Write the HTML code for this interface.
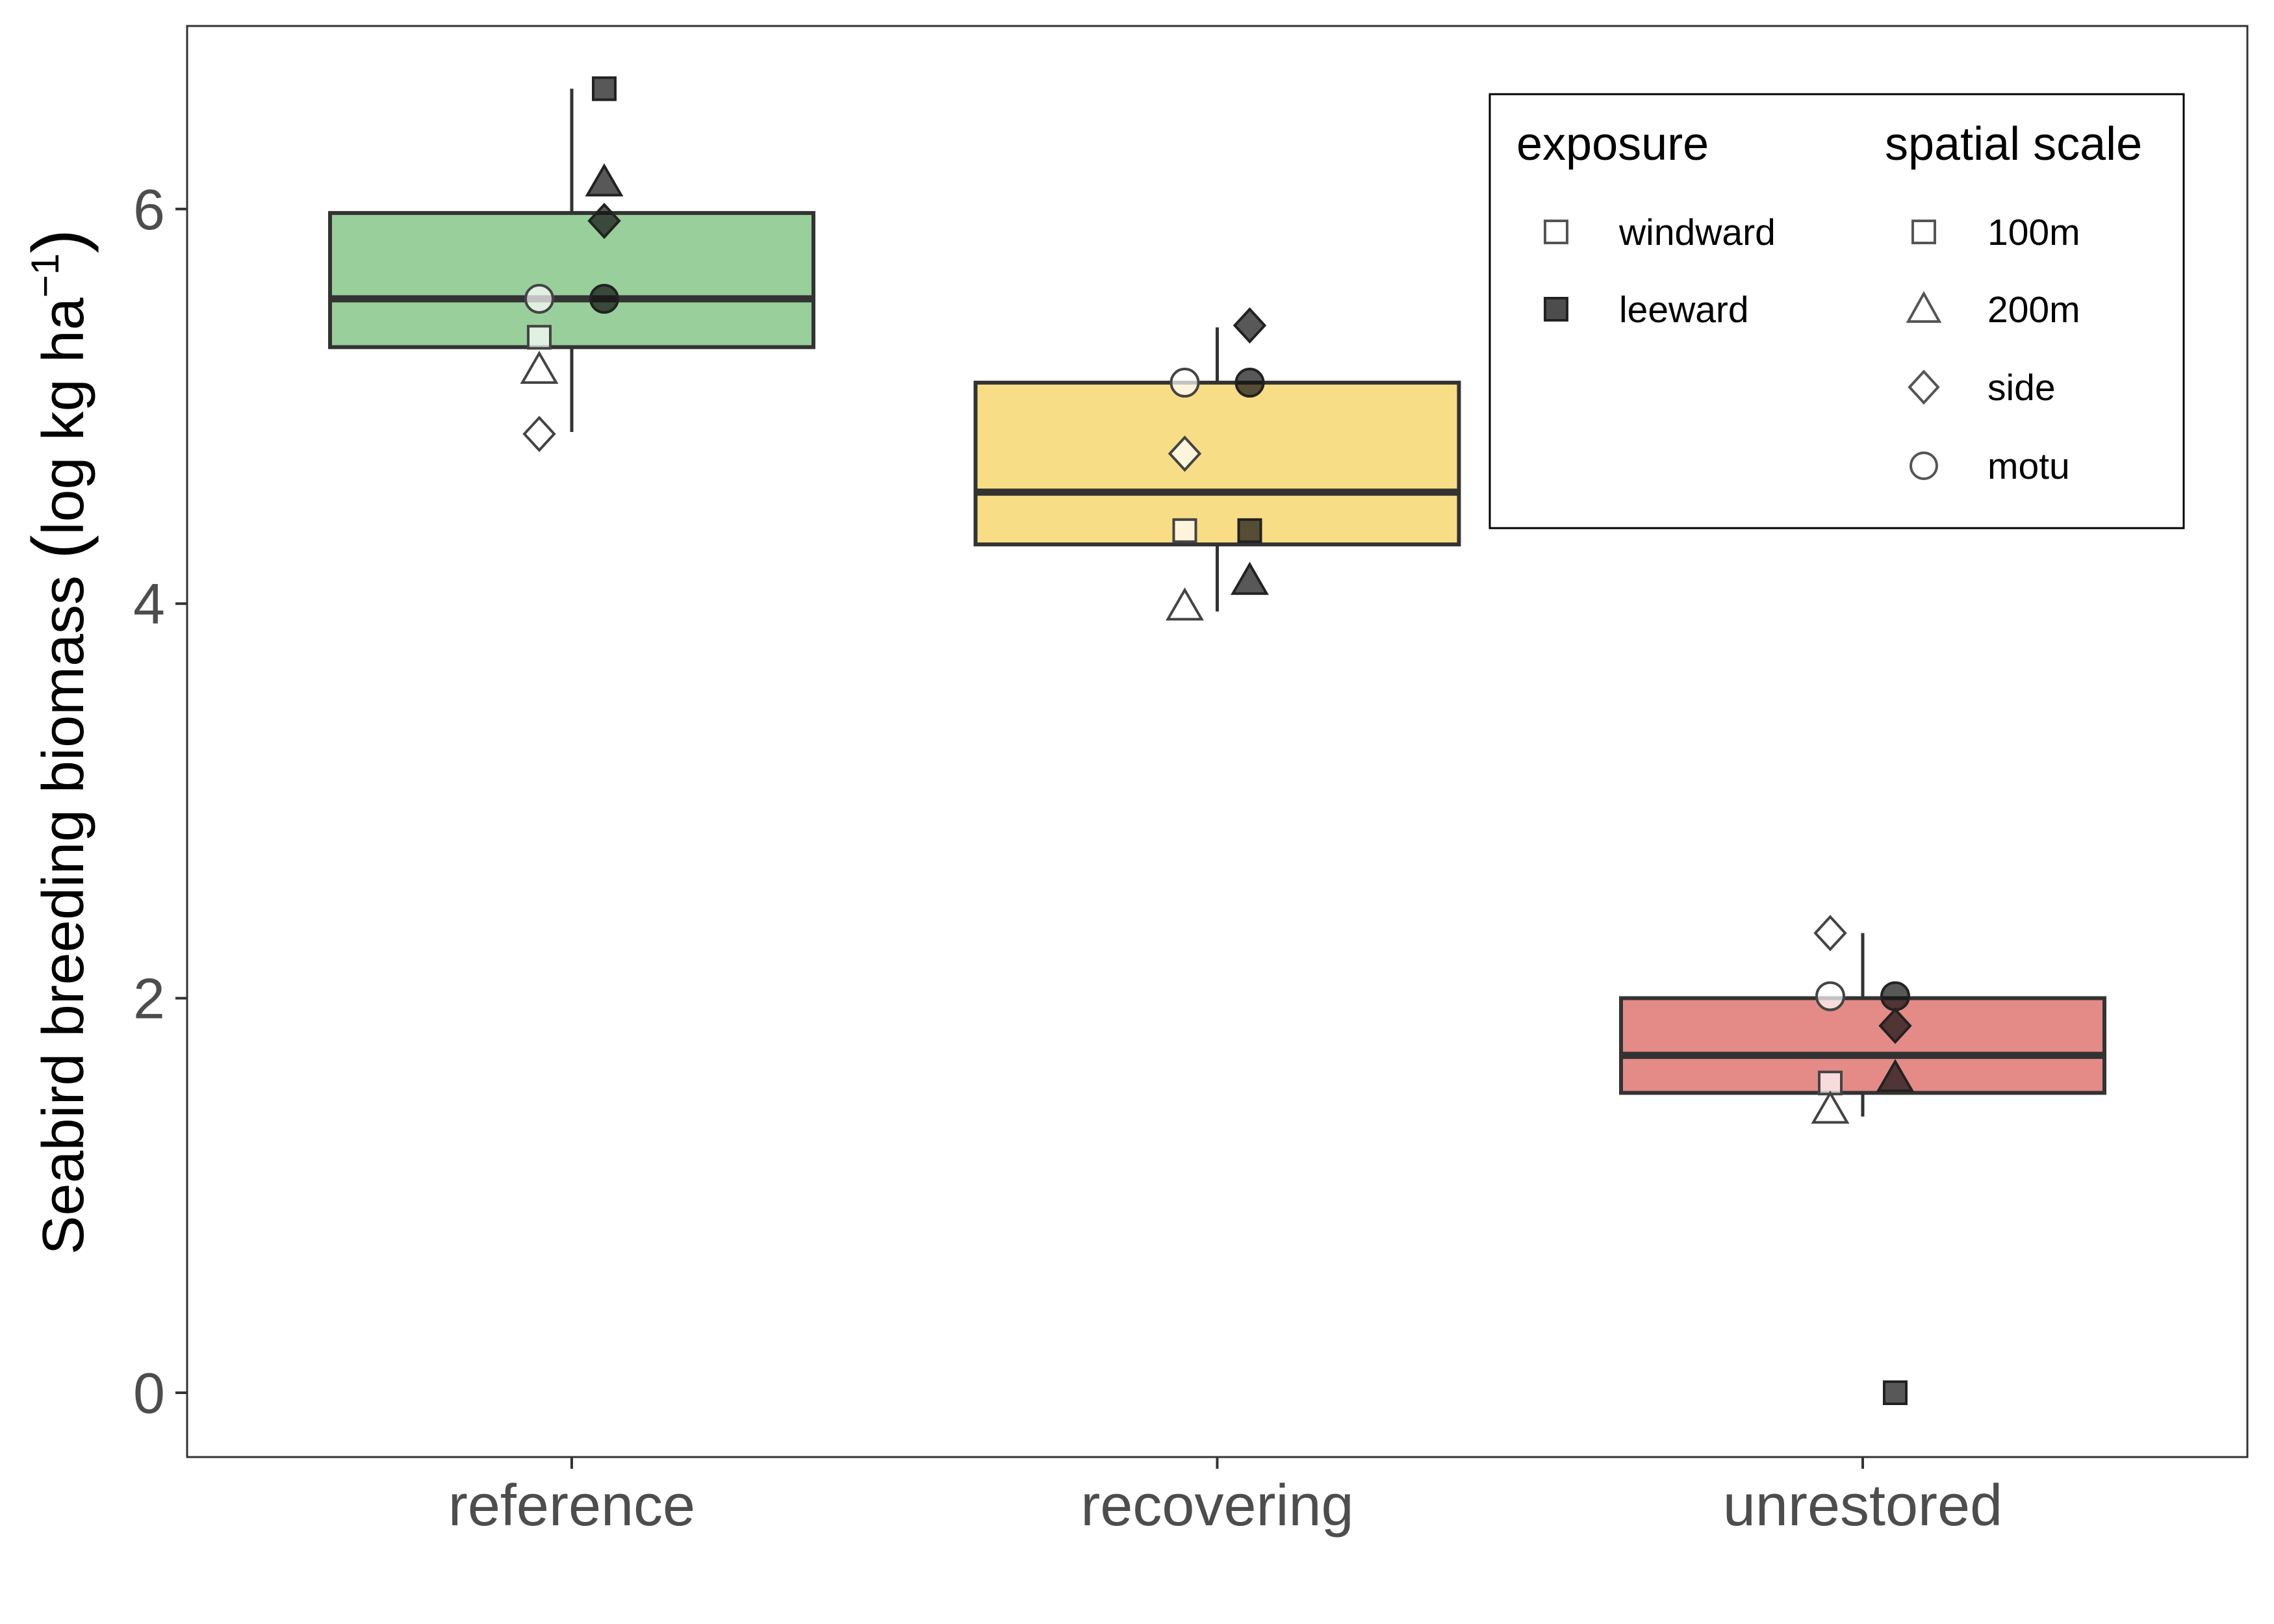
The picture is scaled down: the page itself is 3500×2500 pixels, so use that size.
<!DOCTYPE html>
<html><head><meta charset="utf-8"><style>
html,body{margin:0;padding:0;background:#fff;}
svg{display:block;font-family:"Liberation Sans",Arial,sans-serif;}
</style></head><body>
<svg id="chart" width="3500" height="2500" viewBox="0 0 3500 2500" xmlns="http://www.w3.org/2000/svg">
<rect width="3500" height="2500" fill="#fff"/>
<g id="plot"></g>
<rect x="288" y="40" width="3171" height="2203" fill="none" stroke="#333" stroke-width="3"/>
<text transform="translate(128,1142) rotate(-90)" text-anchor="middle" font-size="90" fill="#000">Seabird breeding biomass <tspan font-size="112">(</tspan>log kg ha<tspan font-size="60" dy="-38">−1</tspan><tspan font-size="112" dy="38">)</tspan></text>
<g>
<rect x="2293" y="145" width="1068" height="668" fill="#fff" stroke="#000" stroke-width="3"/>
<text x="2334" y="246" font-size="72">exposure</text>
<text x="2901" y="246" font-size="72">spatial scale</text>
<rect x="2378" y="340" width="34" height="34" fill="#fff" stroke="#555" stroke-width="4"/>
<text x="2492" y="377" font-size="57">windward</text>
<rect x="2378" y="459" width="34" height="34" fill="#4d4d4d" stroke="#222" stroke-width="4"/>
<text x="2492" y="496" font-size="57">leeward</text>
<rect x="2944" y="340" width="34" height="34" fill="#fff" stroke="#555" stroke-width="4"/>
<text x="3059" y="377" font-size="57">100m</text>
<polygon points="2961,452 2985,495 2937,495" fill="#fff" stroke="#555" stroke-width="4"/>
<text x="3059" y="496" font-size="57">200m</text>
<polygon points="2961,572 2983,596 2961,620 2939,596" fill="#fff" stroke="#555" stroke-width="4"/>
<text x="3059" y="616" font-size="57">side</text>
<circle cx="2961" cy="717" r="20" fill="#fff" stroke="#555" stroke-width="4"/>
<text x="3059" y="737" font-size="57">motu</text>
</g>
</svg>
<script>
const categories = ["reference","recovering","unrestored"];
const boxQ1 = [5.30, 4.30, 1.52];
const boxMedian = [5.545, 4.565, 1.71];
const boxQ3 = [5.98, 5.12, 2.00];
const whiskerLow = [4.87, 3.96, 1.40];
const whiskerHigh = [6.61, 5.40, 2.33];
const boxColors = ["#98cf9b","#f7dd85","#e48a87"];
const scales = ["100m","200m","side","motu"];
const windwardValues = [[5.35,5.18,4.86,5.545],[4.37,3.98,4.76,5.12],[1.57,1.43,2.33,2.01]];
const leewardValues = [[6.61,6.13,5.94,5.545],[4.37,4.11,5.41,5.12],[0,1.59,1.86,2.01]];
const yTicks = [0,2,4,6];

const NS="http://www.w3.org/2000/svg";
const plot=document.getElementById('plot');
const svg=document.getElementById('chart');
function y(v){return 2144-303.7*v;}
function x(i){return 880+993.5*i;}
function mk(tag,attrs,parent){const e=document.createElementNS(NS,tag);for(const k in attrs)e.setAttribute(k,attrs[k]);(parent||plot).appendChild(e);return e;}

yTicks.forEach(t=>{
  const l=mk('line',{x1:270,x2:288,y1:y(t),y2:y(t),stroke:'#333','stroke-width':4},svg);
  
  
  const tx=mk('text',{x:254,y:y(t)+31,'text-anchor':'end','font-size':88,fill:'#4d4d4d'},svg);
  tx.textContent=t;
  
  
});
categories.forEach((c,i)=>{
  const l=mk('line',{x1:x(i),x2:x(i),y1:2243,y2:2261,stroke:'#333','stroke-width':4},svg);
  
  
  const tx=mk('text',{x:x(i),y:2348,'text-anchor':'middle','font-size':90,fill:'#4d4d4d'},svg);
  tx.textContent=c;
  
  
});

function shape(kind,cx,cy,fill,stroke,nm){
  let e;
  if(kind===0)e=mk('rect',{x:cx-17,y:cy-17,width:34,height:34});
  else if(kind===1)e=mk('polygon',{points:`${cx},${cy-27} ${cx+26},${cy+18} ${cx-26},${cy+18}`});
  else if(kind===2)e=mk('polygon',{points:`${cx},${cy-25} ${cx+23},${cy} ${cx},${cy+25} ${cx-23},${cy}`});
  else e=mk('circle',{cx:cx,cy:cy,r:21});
  e.setAttribute('fill',fill);e.setAttribute('fill-opacity','0.7');
  e.setAttribute('stroke',stroke);e.setAttribute('stroke-width',4);
  
  
}

categories.forEach((c,i)=>{
  const cx=x(i);
  const w1=mk('line',{x1:cx,x2:cx,y1:y(whiskerHigh[i]),y2:y(boxQ3[i]),stroke:'#333','stroke-width':5});
  
  
  const w2=mk('line',{x1:cx,x2:cx,y1:y(boxQ1[i]),y2:y(whiskerLow[i]),stroke:'#333','stroke-width':5});
  
  
  const b=mk('rect',{x:cx-372,y:y(boxQ3[i]),width:744,height:y(boxQ1[i])-y(boxQ3[i]),fill:boxColors[i],stroke:'#333','stroke-width':6});
  
  
  const m=mk('line',{x1:cx-372,x2:cx+372,y1:y(boxMedian[i]),y2:y(boxMedian[i]),stroke:'#333','stroke-width':11});
  
  
  scales.forEach((s,k)=>{
    shape(k,cx-50,y(windwardValues[i][k]),'#fff','#444','point-'+c+'-windward-'+s);
    shape(k,cx+50,y(leewardValues[i][k]),'#111','#222','point-'+c+'-leeward-'+s);
  });
});
</script>
</body></html>
